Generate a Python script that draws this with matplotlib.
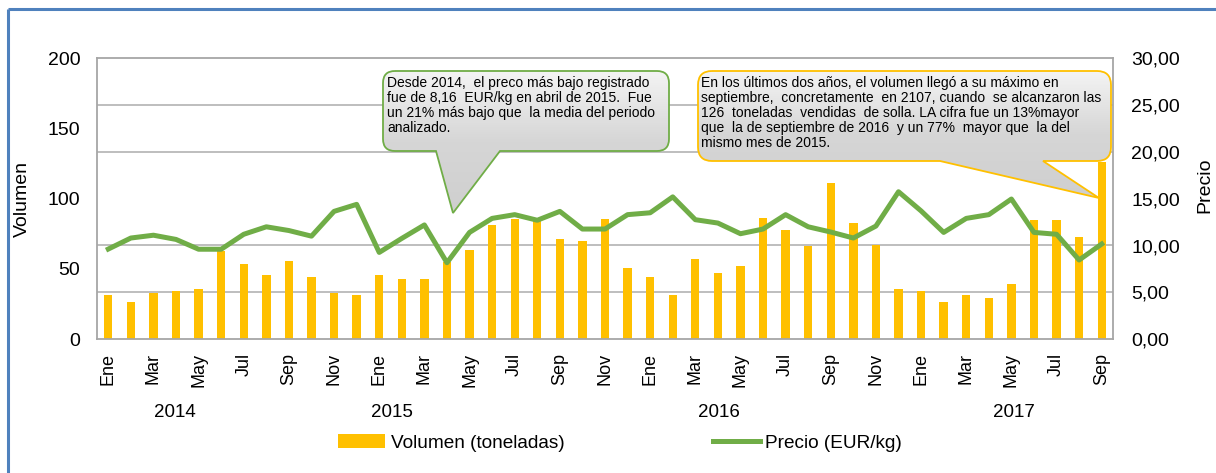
import numpy as np
import matplotlib.pyplot as plt
from matplotlib.path import Path
from matplotlib.patches import PathPatch
from matplotlib.colors import LinearSegmentedColormap
from matplotlib.transforms import blended_transform_factory

plt.rcParams['font.family'] = ['Liberation Sans', 'DejaVu Sans']

meses = ['Ene', 'Feb', 'Mar', 'Abr', 'May', 'Jun', 'Jul', 'Ago', 'Sep', 'Oct', 'Nov', 'Dic']
etiquetas = meses * 3 + meses[:9]
anios = ['2014', '2015', '2016', '2017']
anios_x = [2.95, 12.56, 27.05, 40.1]

volumen = [31.6, 26.4, 32.8, 34.3, 35.5, 62.4, 53.3, 45.7, 55.9, 44.5, 32.8, 31.6,
           45.7, 43.1, 43.1, 55.0, 63.6, 81.6, 85.4, 84.0, 71.4, 70.0, 85.4, 50.7,
           44.5, 31.6, 57.1, 46.9, 52.1, 86.6, 77.6, 66.2, 110.9, 82.9, 67.1, 35.4,
           34.0, 26.4, 31.6, 29.0, 39.3, 85.2, 85.2, 72.4, 126.0]
precio = [9.62, 10.8, 11.1, 10.65, 9.6, 9.6, 11.2, 12.0, 11.6, 11.0, 13.65, 14.4,
          9.26, 10.76, 12.2, 8.16, 11.4, 12.9, 13.3, 12.7, 13.65, 11.76, 11.76, 13.3,
          13.5, 15.2, 12.76, 12.4, 11.26, 11.76, 13.3, 12.0, 11.44, 10.8, 12.08, 15.75,
          13.7, 11.4, 12.9, 13.3, 14.97, 11.4, 11.2, 8.45, 10.16]

texto1 = ("Desde 2014,  el preco más bajo registrado\n"
          "fue de 8,16  EUR/kg en abril de 2015.  Fue\n"
          "un 21% más bajo que  la media del periodo\n"
          "analizado.")
texto2 = ("En los últimos dos años, el volumen llegó a su máximo en\n"
          "septiembre,  concretamente  en 2107, cuando  se alcanzaron las\n"
          "126  toneladas  vendidas  de solla. LA cifra fue un 13%mayor\n"
          "que  la de septiembre de 2016  y un 77%  mayor que  la del\n"
          "mismo mes de 2015.")

W, H = 1216, 473
fig = plt.figure(figsize=(W / 100, H / 100), dpi=100)
ax = fig.add_axes([97 / W, 1 - 339 / H, (1113 - 97) / W, (339 - 58.5) / H])
x = np.arange(len(volumen))

ax.bar(x, volumen, width=0.37, color='#FFC000', zorder=2, label='Volumen (toneladas)')
ax.set_xlim(-0.5, len(volumen) - 0.5)
ax.set_ylim(0, 200)
ax.set_yticks(np.arange(0, 201, 50))
ax.set_yticks(np.linspace(0, 200, 7), minor=True)
ax.grid(True, which='minor', axis='y', color='#B3B3B3', lw=1.2)
ax.set_axisbelow(True)
ax.tick_params(axis='y', which='minor', length=0)
ax.tick_params(axis='y', which='major', length=0, labelsize=14, pad=12)
ax.set_xticks(x[::2])
ax.set_xticklabels(etiquetas[::2], rotation=90, fontsize=13)
ax.tick_params(axis='x', length=0, pad=10)
for s in ax.spines.values():
    s.set_color('#A6A6A6')
    s.set_linewidth(1.3)
ax.set_ylabel('Volumen', fontsize=14, labelpad=12)

ax2 = ax.twinx()
ax2.plot(x, precio, color='#70AD47', lw=3.6, solid_joinstyle='round', label='Precio (EUR/kg)')
ax2.set_ylim(0, 30)
ax2.set_yticks(np.arange(0, 31, 5))
ax2.set_yticklabels([f'{v:.2f}'.replace('.', ',') for v in np.arange(0, 31, 5)])
ax2.tick_params(axis='y', length=0, labelsize=14, pad=13)
for s in ax2.spines.values():
    s.set_visible(False)
fig.text(1205 / W, 1 - 185 / H, 'Precio', rotation=90, ha='center', va='center', fontsize=14)

tr = blended_transform_factory(ax.transData, fig.transFigure)
for xa, a in zip(anios_x, anios):
    ax.text(xa, 1 - 412 / H, a, transform=tr, ha='center', va='center', fontsize=13.5)

h1, l1 = ax.get_legend_handles_labels()
h2, l2 = ax2.get_legend_handles_labels()
fig.legend(h1 + h2, l1 + l2, loc='center', bbox_to_anchor=(620 / W, 1 - 443 / H), ncol=2,
           frameon=False, fontsize=13.7, handlelength=2.47, handletextpad=0.3,
           columnspacing=7.8, borderaxespad=0, borderpad=0)

# capa para los globos de texto y el marco
ov = fig.add_axes([0, 0, 1, 1], zorder=10)
ov.patch.set_alpha(0)


def globo(x0, y0, x1, y1, b0, b1, tip, r, color):
    C = Path.CURVE3
    verts = [(x0 + r, y0), (x1 - r, y0), (x1, y0), (x1, y0 + r), (x1, y1 - r),
             (x1, y1), (x1 - r, y1), (b1, y1), tip, (b0, y1), (x0 + r, y1),
             (x0, y1), (x0, y1 - r), (x0, y0 + r), (x0, y0), (x0 + r, y0)]
    codes = [Path.MOVETO, Path.LINETO, C, C, Path.LINETO, C, C, Path.LINETO,
             Path.LINETO, Path.LINETO, Path.LINETO, C, C, Path.LINETO, C, C]
    p = PathPatch(Path(verts, codes), facecolor='none', edgecolor=color, lw=1.3, zorder=3)
    ov.add_patch(p)
    ymax = max(y1, tip[1])
    grad = np.linspace(0, 1, 100).reshape(-1, 1)
    cmap = LinearSegmentedColormap.from_list('g', ['#F4F4F4', '#D6D6D6', '#CFCFCF'])
    im = ov.imshow(grad, cmap=cmap, extent=(x0, x1, ymax, y0), aspect='auto', zorder=2)
    im.set_clip_path(p)


globo(383, 71, 669, 151, 436, 500, (453, 213), 12, '#70AD47')
globo(698, 71, 1111, 161, 940, 1043, (1099, 198), 14, '#FFC000')
ov.set_xlim(0, W)
ov.set_ylim(H, 0)
ov.axis('off')

ov.text(387, 76, texto1, ha='left', va='top', fontsize=10, linespacing=1.08, zorder=4)
ov.text(701, 76, texto2, ha='left', va='top', fontsize=10, linespacing=1.08, zorder=4)

ov.plot([8, 8], [9, H + 5], color='#4F81BD', lw=2.2, solid_capstyle='butt')
ov.plot([8, W + 5], [9, 9], color='#4F81BD', lw=2.2, solid_capstyle='butt')

fig.savefig('out.png', dpi=100)
